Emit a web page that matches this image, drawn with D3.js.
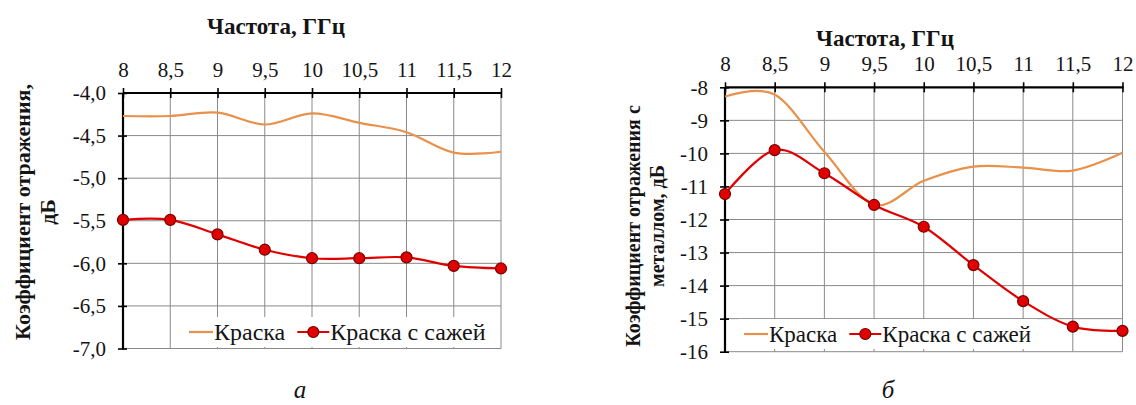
<!DOCTYPE html>
<html>
<head>
<meta charset="utf-8">
<script src="https://cdn.jsdelivr.net/npm/d3@7"></script>
<style>
  body { margin: 0; background: #fff; }
  svg { display: block; }
</style>
</head>
<body>
<svg id="fig" width="1136" height="405"></svg>
<script>
// Frequency points, GHz
const freq = [8, 8.5, 9, 9.5, 10, 10.5, 11, 11.5, 12];

// Panel "а": reflection coefficient, dB
const paintA = [-4.27, -4.27, -4.23, -4.37, -4.24, -4.35, -4.46, -4.70, -4.69];
const sootA  = [-5.49, -5.49, -5.66, -5.84, -5.94, -5.94, -5.93, -6.03, -6.06];

// Panel "б": reflection coefficient with metal backing, dB
const paintB = [-8.28, -8.22, -9.95, -11.55, -10.83, -10.40, -10.43, -10.52, -9.98];
const sootB  = [-11.23, -9.90, -10.60, -11.56, -12.22, -13.38, -14.47, -15.24, -15.37];

const yTicksA = [-4, -4.5, -5, -5.5, -6, -6.5, -7];
const yTicksB = [-8, -9, -10, -11, -12, -13, -14, -15, -16];

const seriesNames = ["Краска", "Краска с сажей"];
const xTitle = "Частота, ГГц";
const yTitleA = ["Коэффициент отражения,", "дБ"];
const yTitleB = ["Коэффициент отражения с", "металлом, дБ"];
const captions = ["а", "б"];

const PAINT = "#e8914a";
const SOOT = "#e00000";
const GRID = "#8a8a8a";
const FONT = '"Liberation Serif"';

const svg = d3.select("#fig");
const comma = s => s.replace(".", ",");

function label(sel) {
  return sel.style("font-family", FONT).attr("fill", "#141414");
}

function drawPanel(p) {
  const x = d3.scaleLinear().domain([freq[0], freq[freq.length - 1]]).range([p.left, p.right]);
  const y = d3.scaleLinear().domain([p.yTicks[0], p.yTicks[p.yTicks.length - 1]]).range([p.top, p.bottom]);
  const g = svg.append("g");

  // grid
  g.append("g").selectAll("line").data(freq.slice(1)).join("line")
    .attr("x1", d => x(d)).attr("x2", d => x(d))
    .attr("y1", p.top).attr("y2", p.bottom)
    .attr("stroke", GRID).attr("stroke-width", 1);
  g.append("g").selectAll("line").data(p.yTicks.slice(1)).join("line")
    .attr("x1", p.left).attr("x2", p.right)
    .attr("y1", d => y(d)).attr("y2", d => y(d))
    .attr("stroke", GRID).attr("stroke-width", 1);

  // legend group (white box over the grid)
  const lg = g.append("g");
  const box = lg.append("rect").attr("fill", "#fff");

  // top axis with crossing ticks
  const xAxis = g.append("g").attr("transform", `translate(0,${p.top})`)
    .call(d3.axisTop(x).tickValues(freq).tickSize(5).tickPadding(10)
      .tickFormat(d => comma(String(d))));
  xAxis.attr("font-family", null);
  xAxis.select(".domain").remove();
  xAxis.selectAll(".tick line").attr("stroke", "#000").attr("stroke-width", 1.6).attr("y1", 5).attr("y2", -5);
  label(xAxis.selectAll(".tick text")).attr("font-size", p.tickFont)
    .attr("dy", 0).attr("y", p.xLabelY - p.top);

  // left axis with crossing ticks
  const yAxis = g.append("g").attr("transform", `translate(${p.left},0)`)
    .call(d3.axisLeft(y).tickValues(p.yTicks).tickSize(5).tickPadding(p.yPad)
      .tickFormat(p.yFmt));
  yAxis.attr("font-family", null);
  yAxis.select(".domain").remove();
  yAxis.selectAll(".tick line").attr("stroke", "#000").attr("stroke-width", 1.6).attr("x1", 4).attr("x2", -5);
  label(yAxis.selectAll(".tick text")).attr("font-size", p.tickFont);

  // axis lines
  g.append("line").attr("x1", p.left).attr("x2", p.right + 1).attr("y1", p.top).attr("y2", p.top)
    .attr("stroke", "#000").attr("stroke-width", 2.2);
  g.append("line").attr("x1", p.left).attr("x2", p.left).attr("y1", p.top).attr("y2", p.bottom + 1)
    .attr("stroke", "#000").attr("stroke-width", 2.2);

  // axis titles
  label(g.append("text")).attr("x", p.titleX).attr("y", p.titleY).attr("text-anchor", "middle")
    .attr("font-weight", "bold").attr("font-size", p.titleFont).text(xTitle);
  p.yTitle.forEach((t, i) => {
    label(g.append("text"))
      .attr("transform", `translate(${p.yTitleX[i]},${p.yTitleCY}) rotate(-90)`)
      .attr("text-anchor", "middle").attr("dy", "0.35em")
      .attr("font-weight", "bold").attr("font-size", p.yTitleFont).text(t);
  });

  // series
  const line = d3.line().x((d, i) => x(freq[i])).y(d => y(d)).curve(d3.curveCardinal.tension(0));
  g.append("path").datum(p.paint).attr("d", line).attr("fill", "none")
    .attr("stroke", PAINT).attr("stroke-width", 2.2);
  g.append("path").datum(p.soot).attr("d", line).attr("fill", "none")
    .attr("stroke", SOOT).attr("stroke-width", 2.2);
  g.append("g").selectAll("circle").data(p.soot).join("circle")
    .attr("cx", (d, i) => x(freq[i])).attr("cy", d => y(d)).attr("r", 5.5)
    .attr("fill", SOOT).attr("stroke", "#7a0000").attr("stroke-width", 1.2);

  // legend entries
  let lx = p.legend.x;
  const ly = p.legend.y;
  lg.append("line").attr("x1", lx).attr("x2", lx + 24).attr("y1", ly).attr("y2", ly)
    .attr("stroke", PAINT).attr("stroke-width", 2.2);
  lx += 25;
  const t1 = label(lg.append("text")).attr("x", lx).attr("y", ly).attr("dy", "0.33em")
    .attr("font-size", p.legendFont).text(seriesNames[0]);
  lx += t1.node().getComputedTextLength() + 12;
  lg.append("line").attr("x1", lx).attr("x2", lx + 32).attr("y1", ly).attr("y2", ly)
    .attr("stroke", SOOT).attr("stroke-width", 2.2);
  lg.append("circle").attr("cx", lx + 16).attr("cy", ly).attr("r", 5.5)
    .attr("fill", SOOT).attr("stroke", "#7a0000").attr("stroke-width", 1.2);
  lx += 33;
  const t2 = label(lg.append("text")).attr("x", lx).attr("y", ly).attr("dy", "0.33em")
    .attr("font-size", p.legendFont).text(seriesNames[1]);
  lx += t2.node().getComputedTextLength();
  box.attr("x", p.legend.x - 6).attr("y", ly - 15)
    .attr("width", lx - p.legend.x + 12).attr("height", 30);

  // panel caption
  label(g.append("text")).attr("x", p.capX).attr("y", 398).attr("text-anchor", "middle")
    .attr("font-style", "italic").attr("font-size", 25).text(p.caption);
}

drawPanel({
  left: 123, right: 501, top: 93, bottom: 348.5,
  yTicks: yTicksA, yFmt: d => comma(d.toFixed(1)), yPad: 12,
  paint: paintA, soot: sootA,
  tickFont: 21, xLabelY: 77,
  titleX: 276, titleY: 34, titleFont: 23,
  yTitle: yTitleA, yTitleX: [22, 47], yTitleCY: 212, yTitleFont: 22,
  legend: { x: 189, y: 332 }, legendFont: 24,
  capX: 300, caption: captions[0]
});

drawPanel({
  left: 725, right: 1122.5, top: 87.3, bottom: 351.7,
  yTicks: yTicksB, yFmt: d => String(d), yPad: 12,
  paint: paintB, soot: sootB,
  tickFont: 21, xLabelY: 71,
  titleX: 885, titleY: 46, titleFont: 23,
  yTitle: yTitleB, yTitleX: [633, 657], yTitleCY: 226, yTitleFont: 20,
  legend: { x: 744, y: 334 }, legendFont: 23,
  capX: 888, caption: captions[1]
});
</script>
</body>
</html>
